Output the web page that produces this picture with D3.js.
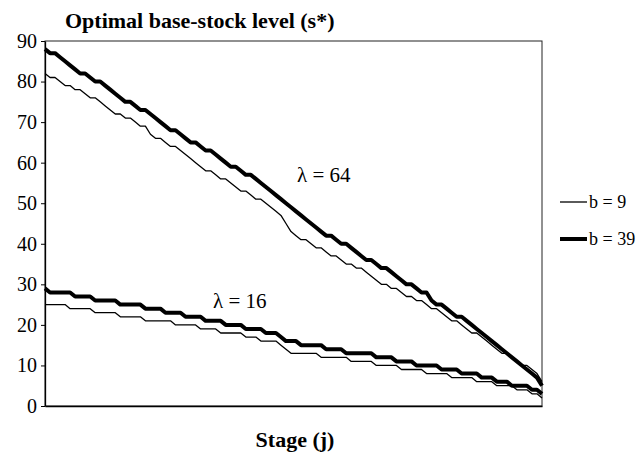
<!DOCTYPE html>
<html>
<head>
<meta charset="utf-8">
<script src="https://cdn.jsdelivr.net/npm/d3@7"></script>
</head>
<body style="margin:0">
<script>
// Optimal base-stock level s* by stage, for two demand rates and two backorder costs
const yTicks = [0, 10, 20, 30, 40, 50, 60, 70, 80, 90];

// lambda = 64
const lam64b9 = [
  82, 81, 81, 80, 79, 79, 78, 78, 77, 76, 76, 75, 74, 73, 72, 72, 71, 71, 70, 69,
  69, 67, 66, 66, 65, 64, 64, 63, 62, 61, 60, 59, 58, 58, 57, 56, 56, 55, 54, 53,
  53, 52, 51, 51, 50, 49, 48, 47, 45, 43, 42, 41, 41, 40, 39, 39, 38, 37, 37, 36,
  35, 35, 34, 34, 33, 32, 31, 30, 30, 29, 29, 28, 27, 27, 26, 26, 25, 24, 24, 23,
  22, 21, 21, 20, 19, 18, 18, 17, 16, 15, 14, 13, 13, 12, 11, 10, 10, 9, 8, 6
];
const lam64b39 = [
  88, 87, 87, 86, 85, 84, 83, 82, 82, 81, 80, 80, 79, 78, 77, 76, 75, 75, 74, 73,
  73, 72, 71, 70, 69, 68, 68, 67, 66, 65, 65, 64, 63, 63, 62, 61, 60, 59, 59, 58,
  57, 57, 56, 55, 54, 53, 52, 51, 50, 49, 48, 47, 46, 45, 44, 43, 42, 42, 41, 40,
  40, 39, 38, 37, 36, 36, 35, 34, 34, 33, 32, 31, 30, 30, 29, 28, 28, 26, 25, 25,
  24, 23, 22, 22, 21, 20, 19, 18, 17, 16, 15, 14, 13, 12, 11, 10, 9, 8, 7, 5
];

// lambda = 16
const lam16b9 = [
  25, 25, 25, 25, 25, 24, 24, 24, 24, 24, 23, 23, 23, 23, 23, 22, 22, 22, 22, 22,
  21, 21, 21, 21, 21, 21, 20, 20, 20, 20, 20, 19, 19, 19, 19, 18, 18, 18, 18, 18,
  17, 17, 17, 16, 16, 16, 16, 15, 14, 13, 13, 13, 13, 13, 13, 12, 12, 12, 12, 12,
  12, 11, 11, 11, 11, 11, 10, 10, 10, 10, 10, 9, 9, 9, 9, 9, 8, 8, 8, 8,
  8, 7, 7, 7, 7, 7, 6, 6, 6, 6, 5, 5, 5, 5, 4, 4, 4, 3, 3, 2
];
const lam16b39 = [
  29, 28, 28, 28, 28, 28, 27, 27, 27, 27, 26, 26, 26, 26, 26, 25, 25, 25, 25, 25,
  24, 24, 24, 24, 23, 23, 23, 23, 22, 22, 22, 22, 21, 21, 21, 21, 20, 20, 20, 20,
  19, 19, 19, 19, 18, 18, 18, 17, 16, 16, 16, 15, 15, 15, 15, 15, 14, 14, 14, 14,
  13, 13, 13, 13, 13, 13, 12, 12, 12, 12, 11, 11, 11, 11, 10, 10, 10, 10, 10, 9,
  9, 9, 9, 8, 8, 8, 8, 7, 7, 7, 6, 6, 6, 5, 5, 5, 5, 4, 4, 3
];

const stages = d3.range(1, lam16b9.length + 1);

const THIN = 1.3, THICK = 4;
const seriesList = [
  { key: "b9", values: lam64b9, width: THIN },
  { key: "b39", values: lam64b39, width: THICK },
  { key: "b9", values: lam16b9, width: THIN },
  { key: "b39", values: lam16b39, width: THICK }
];
const legendItems = [
  { label: "b = 9", width: THIN },
  { label: "b = 39", width: THICK }
];

const FONT = "Liberation Serif, Times New Roman, serif";
const W = 637, H = 454;
const plot = { left: 45, right: 542, top: 41, bottom: 406 };

const svg = d3.select("body").append("svg")
  .attr("width", W).attr("height", H)
  .attr("font-family", FONT)
  .style("display", "block");

const x = d3.scaleLinear()
  .domain([stages[0], stages[stages.length - 1]])
  .range([plot.left, plot.right]);
const y = d3.scaleLinear()
  .domain([0, 90])
  .range([plot.bottom, plot.top]);

// plot frame
svg.append("rect")
  .attr("x", plot.left).attr("y", plot.top)
  .attr("width", plot.right - plot.left)
  .attr("height", plot.bottom - plot.top)
  .attr("fill", "none").attr("stroke", "#222").attr("stroke-width", 1);

// y axis
const yAxis = svg.append("g")
  .attr("transform", `translate(${plot.left},0)`)
  .call(d3.axisLeft(y).tickValues(yTicks).tickSize(4).tickPadding(4).tickSizeOuter(0))
  .attr("font-family", FONT)
  .attr("font-size", 20);
yAxis.select(".domain").attr("stroke", "#000").attr("stroke-width", 1.3);
yAxis.selectAll(".tick line").attr("stroke", "#000");
yAxis.selectAll(".tick text").attr("fill", "#000");

// x axis (no tick labels)
const xAxis = svg.append("g")
  .attr("transform", `translate(0,${plot.bottom})`)
  .call(d3.axisBottom(x).tickValues([]).tickSizeOuter(0));
xAxis.select(".domain").attr("stroke", "#000").attr("stroke-width", 1.3);

// series lines
const line = d3.line()
  .x((d, i) => x(stages[i]))
  .y(d => y(d));

svg.append("g").selectAll("path")
  .data(seriesList)
  .join("path")
  .attr("d", d => line(d.values))
  .attr("fill", "none")
  .attr("stroke", "#000")
  .attr("stroke-width", d => d.width)
  .attr("stroke-linejoin", "round");

// titles
svg.append("text")
  .attr("x", 65).attr("y", 28)
  .attr("font-size", 22).attr("font-weight", "bold")
  .text("Optimal base-stock level (s*)");

svg.append("text")
  .attr("x", 295).attr("y", 447)
  .attr("text-anchor", "middle")
  .attr("font-size", 22).attr("font-weight", "bold")
  .text("Stage (j)");

// curve annotations
svg.append("text")
  .attr("x", 297).attr("y", 182)
  .attr("font-size", 21)
  .text("\u03BB = 64");
svg.append("text")
  .attr("x", 213).attr("y", 308)
  .attr("font-size", 21)
  .text("\u03BB = 16");

// legend
const legend = svg.append("g").attr("transform", "translate(560,202)");
const item = legend.selectAll("g")
  .data(legendItems)
  .join("g")
  .attr("transform", (d, i) => `translate(0,${i * 37})`);
item.append("line")
  .attr("x1", 0).attr("x2", 27).attr("y1", 0).attr("y2", 0)
  .attr("stroke", "#000").attr("stroke-width", d => d.width);
item.append("text")
  .attr("x", 29).attr("y", 6)
  .attr("font-size", 18)
  .text(d => d.label);
</script>
</body>
</html>
